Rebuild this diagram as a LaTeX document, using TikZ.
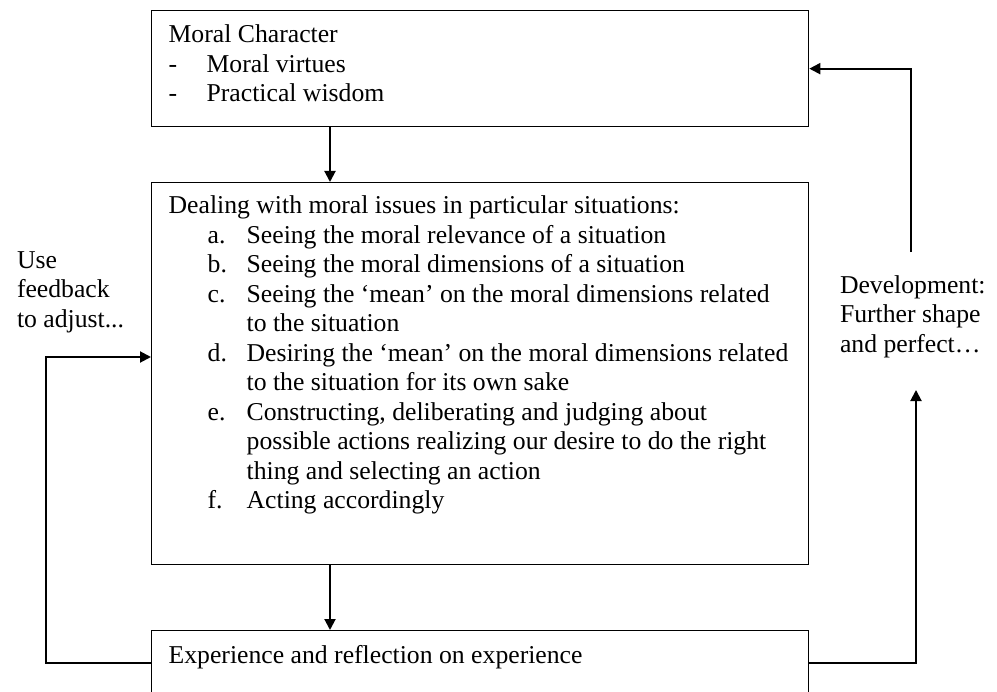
\documentclass[tikz,border=0pt]{standalone}
\usepackage{fontspec}
\setmainfont{Liberation Serif}
\usepackage{tikz}
\usetikzlibrary{arrows.meta}

\newcommand{\dashitem}[1]{\par\hangindent=38bp\hangafter=1\noindent\makebox[38bp][l]{-}#1}
\newcommand{\stepitem}[2]{\par\hangindent=78bp\hangafter=1\noindent\hspace*{39bp}\makebox[39bp][l]{#1}#2}

\begin{document}
\begin{tikzpicture}[x=1bp,y=-1bp,->,>={Triangle[length=11bp,width=11bp]},line width=2bp]
\tikzstyle{box}=[draw,line width=1.3bp,anchor=north west,minimum width=657bp,inner xsep=17bp,inner ysep=0pt,font=\fontsize{25.7bp}{29.5bp}\selectfont]
\tikzstyle{side}=[anchor=north west,inner sep=0pt,font=\fontsize{25.7bp}{29.5bp}\selectfont]
\useasboundingbox (0,0) rectangle (997,692);
\clip (0,0) rectangle (997,692);
% boxes
\node[box,minimum height=116bp]	(moral)	at (151,10)	{\parbox[c][116bp][t]{623bp}{\rule{0pt}{32bp}Moral Character
	\dashitem{Moral virtues}
	\dashitem{Practical wisdom}}};
\node[box,minimum height=382bp]	(deal)	at (151,182)	{\parbox[c][382bp][t]{623bp}{\rule{0pt}{31bp}Dealing with moral issues in particular situations:
	\stepitem{a.}{Seeing the moral relevance of a situation}
	\stepitem{b.}{Seeing the moral dimensions of a situation}
	\stepitem{c.}{Seeing the ‘mean’ on the moral dimensions related\\to the situation}
	\stepitem{d.}{Desiring the ‘mean’ on the moral dimensions related\\to the situation for its own sake}
	\stepitem{e.}{Constructing, deliberating and judging about\\possible actions realizing our desire to do the right\\thing and selecting an action}
	\stepitem{f.}{Acting accordingly}}};
\node[box,minimum height=64bp]	(exp)	at (151,630)	{\parbox[c][64bp][t]{623bp}{\rule{0pt}{33bp}Experience and reflection on experience}};
% side texts
\node[side]	(use)	at (16,235)	{\parbox[t]{140bp}{\rule{0pt}{32bp}Use\\feedback\\to adjust...}};
\node[side]	(dev)	at (839,260)	{\parbox[t]{155bp}{\rule{0pt}{32bp}Development:\\Further shape\\and perfect…}};
% connectors
\coordinate	(axis)	at (330,0);
\coordinate	(fbl)	at (46,357);
\coordinate	(devl)	at (916,390);
\coordinate	(devu)	at (911,252);
\draw	(moral.south -| axis)	--	(deal.north -| axis);
\draw	(deal.south -| axis)	--	(exp.north -| axis);
\draw	(exp.west)	-|	(fbl)	--	(fbl -| deal.west);
\draw	(exp.east)	-|	(devl);
\draw	(devu)	|-	(moral.east);
\end{tikzpicture}
\end{document}
